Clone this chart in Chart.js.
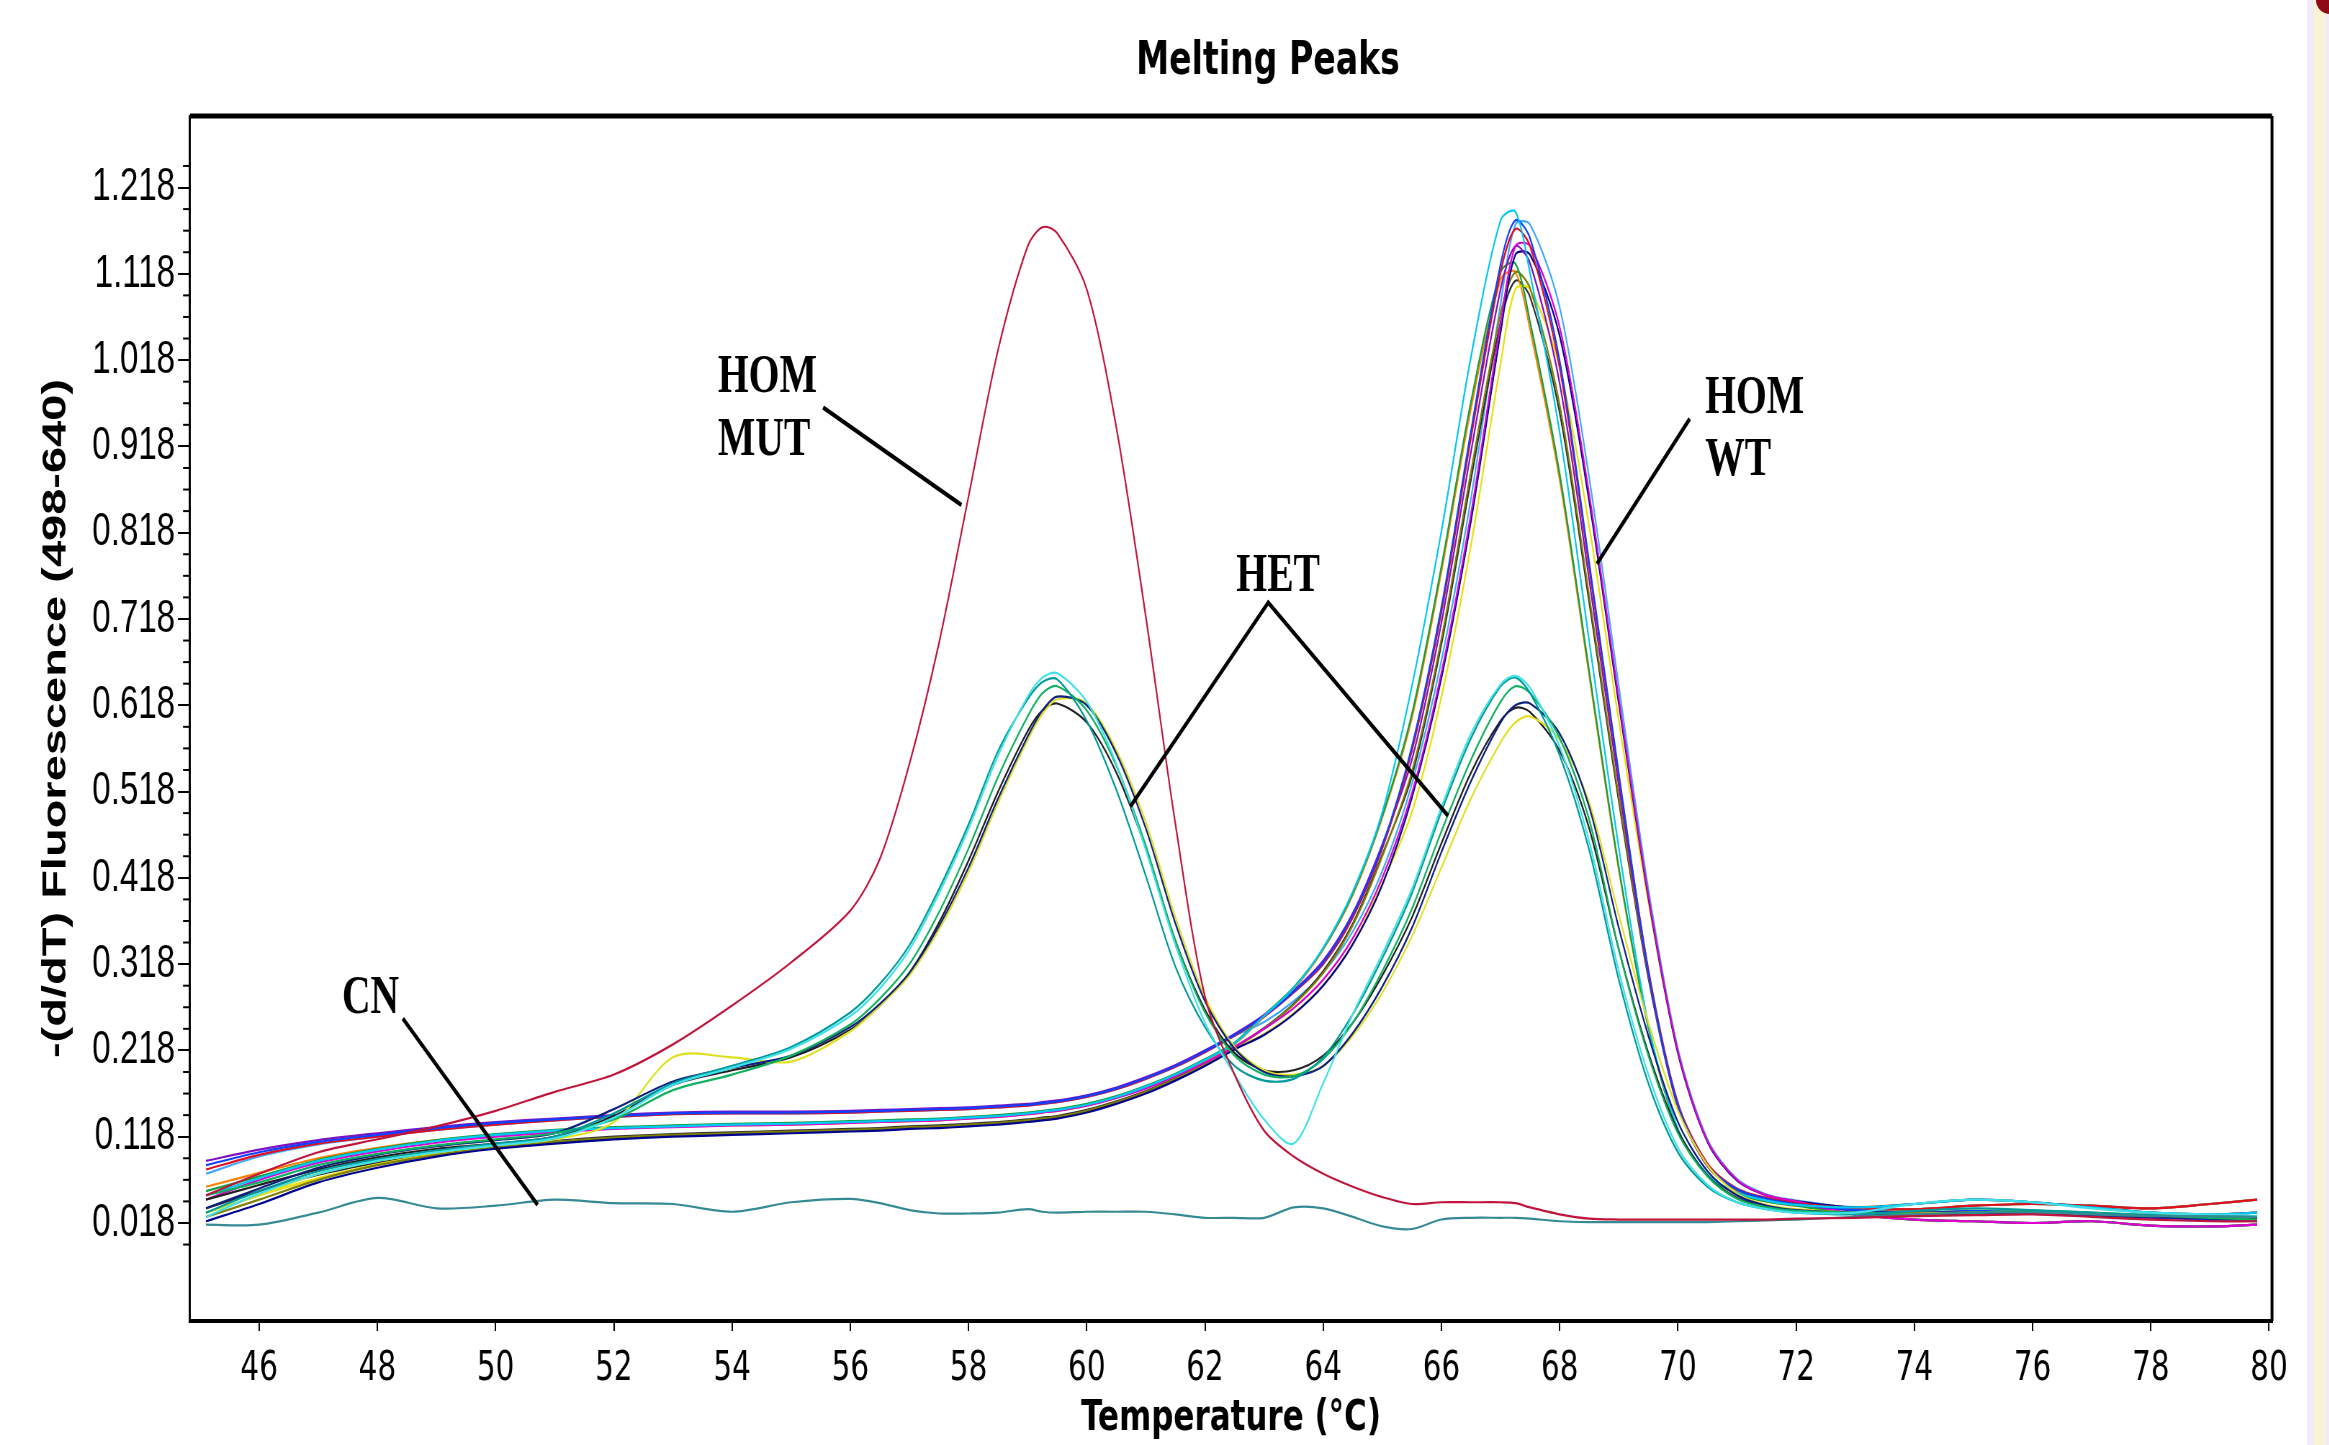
<!DOCTYPE html>
<html>
<head>
<meta charset="utf-8">
<script src="https://cdn.jsdelivr.net/npm/chart.js@4"></script>
<style>
  html, body { margin: 0; padding: 0; background: #fff; overflow: hidden; }
  #wrap { position: absolute; left: 0; top: 0; width: 3235px; height: 1445px;
          transform: scaleX(0.72); transform-origin: 0 0; }
  #edge { position: absolute; left: 2307px; top: 0; width: 22px; height: 1445px;
          background: linear-gradient(to right, #f1eaf8 0 7px, #faf3d2 7px 18px, #f1eaf8 18px); }
  #corner { position: absolute; left: 2316px; top: -14px; width: 28px; height: 28px;
            border-radius: 50%; background: #8e0a14; }
</style>
</head>
<body>
<div id="wrap"><canvas id="c"></canvas></div>
<div id="edge"></div>
<div id="corner"></div>
<script>
// temperature grid (°C)
const temps = [45.1, 46, 47, 48, 49, 50, 51, 52, 53, 54,
  55, 56, 56.5, 57, 57.5, 58, 58.5, 59, 59.25, 59.5,
  60, 60.5, 61, 61.5, 62, 62.5, 63, 63.5, 64, 64.5,
  65, 65.5, 66, 66.5, 67, 67.25, 67.5, 68, 68.5, 69,
  69.5, 70, 70.5, 71, 71.5, 72, 73, 74, 75, 76,
  77, 78, 79, 79.8];

const xTicks = [46, 48, 50, 52, 54, 56, 58, 60, 62, 64, 66, 68, 70, 72, 74, 76, 78, 80];
const yMajorTicks = [0.018, 0.118, 0.218, 0.318, 0.418, 0.518, 0.618, 0.718, 0.818, 0.918, 1.018, 1.118, 1.218];
const yMinorTicks = [-0.007, 0.043, 0.068, 0.093, 0.143, 0.168, 0.193, 0.243, 0.268, 0.293,
  0.343, 0.368, 0.393, 0.443, 0.468, 0.493, 0.543, 0.568, 0.593, 0.643, 0.668, 0.693,
  0.743, 0.768, 0.793, 0.843, 0.868, 0.893, 0.943, 0.968, 0.993, 1.043, 1.068, 1.093,
  1.143, 1.168, 1.193, 1.243];

// HOM MUT sample
const homMut = [0.05, 0.075, 0.1, 0.115, 0.13, 0.148, 0.17, 0.19, 0.225, 0.27,
  0.32, 0.38, 0.44, 0.55, 0.69, 0.86, 1.03, 1.15, 1.172, 1.165,
  1.1, 0.94, 0.72, 0.48, 0.28, 0.19, 0.125, 0.095, 0.075, 0.06,
  0.048, 0.04, 0.042, 0.042, 0.042, 0.041, 0.036, 0.028, 0.023, 0.022,
  0.022, 0.022, 0.022, 0.022, 0.022, 0.023, 0.024, 0.026, 0.027, 0.028,
  0.025, 0.022, 0.02, 0.02];

// negative control
const cn = [0.016, 0.016, 0.03, 0.047, 0.035, 0.038, 0.045, 0.041, 0.04, 0.031,
  0.042, 0.046, 0.041, 0.033, 0.029, 0.029, 0.03, 0.034, 0.031, 0.03,
  0.031, 0.031, 0.031, 0.028, 0.024, 0.024, 0.024, 0.036, 0.035, 0.025,
  0.014, 0.011, 0.022, 0.024, 0.024, 0.024, 0.023, 0.02, 0.019, 0.019,
  0.019, 0.019, 0.019, 0.02, 0.021, 0.022, 0.025, 0.028, 0.03, 0.03,
  0.028, 0.026, 0.026, 0.025];

// heterozygous samples
const het1 = [0.03, 0.055, 0.078, 0.092, 0.102, 0.11, 0.118, 0.145, 0.18, 0.2,
  0.222, 0.262, 0.295, 0.34, 0.405, 0.48, 0.565, 0.625, 0.645, 0.648,
  0.6, 0.52, 0.42, 0.315, 0.245, 0.2, 0.183, 0.185, 0.21, 0.26,
  0.325, 0.4, 0.495, 0.58, 0.64, 0.65, 0.632, 0.56, 0.45, 0.3,
  0.18, 0.1, 0.06, 0.042, 0.034, 0.03, 0.028, 0.032, 0.035, 0.033,
  0.03, 0.027, 0.026, 0.025];
const het2 = [0.05, 0.065, 0.085, 0.098, 0.108, 0.115, 0.122, 0.138, 0.172, 0.19,
  0.212, 0.248, 0.278, 0.318, 0.378, 0.452, 0.535, 0.605, 0.632, 0.64,
  0.612, 0.548, 0.455, 0.345, 0.262, 0.212, 0.19, 0.188, 0.208, 0.25,
  0.31, 0.382, 0.472, 0.555, 0.622, 0.64, 0.632, 0.58, 0.485, 0.335,
  0.212, 0.122, 0.072, 0.046, 0.036, 0.032, 0.03, 0.028, 0.03, 0.032,
  0.03, 0.027, 0.024, 0.022];
const het3 = [0.035, 0.058, 0.082, 0.097, 0.107, 0.114, 0.122, 0.15, 0.182, 0.198,
  0.212, 0.245, 0.272, 0.308, 0.362, 0.43, 0.51, 0.582, 0.612, 0.628,
  0.618, 0.562, 0.475, 0.365, 0.275, 0.22, 0.193, 0.188, 0.2, 0.238,
  0.292, 0.36, 0.448, 0.53, 0.598, 0.618, 0.62, 0.585, 0.5, 0.36,
  0.235, 0.135, 0.078, 0.05, 0.038, 0.033, 0.03, 0.027, 0.028, 0.029,
  0.027, 0.025, 0.023, 0.022];
const het4 = [0.03, 0.05, 0.075, 0.09, 0.1, 0.108, 0.115, 0.135, 0.21, 0.21,
  0.205, 0.24, 0.27, 0.305, 0.358, 0.425, 0.505, 0.578, 0.608, 0.625,
  0.62, 0.566, 0.482, 0.372, 0.28, 0.222, 0.195, 0.19, 0.2, 0.235,
  0.285, 0.35, 0.43, 0.51, 0.575, 0.598, 0.605, 0.578, 0.505, 0.375,
  0.25, 0.148, 0.085, 0.052, 0.039, 0.034, 0.03, 0.029, 0.03, 0.03,
  0.029, 0.027, 0.026, 0.025];
const het5 = [0.045, 0.062, 0.08, 0.094, 0.104, 0.11, 0.118, 0.142, 0.178, 0.195,
  0.21, 0.242, 0.27, 0.308, 0.366, 0.438, 0.518, 0.588, 0.612, 0.62,
  0.598, 0.54, 0.452, 0.345, 0.265, 0.215, 0.195, 0.195, 0.212, 0.25,
  0.305, 0.372, 0.458, 0.54, 0.6, 0.615, 0.61, 0.565, 0.475, 0.335,
  0.215, 0.125, 0.073, 0.047, 0.037, 0.032, 0.03, 0.03, 0.03, 0.029,
  0.027, 0.025, 0.024, 0.023];
const het6 = [0.025, 0.052, 0.075, 0.09, 0.1, 0.108, 0.116, 0.14, 0.178, 0.198,
  0.22, 0.258, 0.29, 0.335, 0.4, 0.475, 0.56, 0.628, 0.65, 0.655,
  0.622, 0.55, 0.45, 0.34, 0.25, 0.19, 0.138, 0.11, 0.18, 0.26,
  0.33, 0.405, 0.5, 0.585, 0.642, 0.652, 0.638, 0.57, 0.46, 0.31,
  0.19, 0.105, 0.062, 0.042, 0.034, 0.03, 0.03, 0.04, 0.045, 0.042,
  0.035, 0.03, 0.028, 0.026];

// homozygous wild type samples
const wt1 = [0.05, 0.07, 0.09, 0.103, 0.113, 0.12, 0.125, 0.128, 0.13, 0.132,
  0.133, 0.135, 0.136, 0.137, 0.138, 0.14, 0.142, 0.145, 0.147, 0.149,
  0.155, 0.164, 0.176, 0.19, 0.207, 0.226, 0.258, 0.29, 0.337, 0.402,
  0.494, 0.64, 0.82, 1.022, 1.18, 1.19, 1.118, 0.934, 0.692, 0.453,
  0.248, 0.127, 0.074, 0.053, 0.044, 0.039, 0.036, 0.04, 0.045, 0.042,
  0.036, 0.03, 0.028, 0.03];
const wt2 = [0.085, 0.1, 0.112, 0.12, 0.128, 0.134, 0.138, 0.142, 0.145, 0.146,
  0.146, 0.147, 0.148, 0.149, 0.15, 0.151, 0.153, 0.155, 0.157, 0.159,
  0.165, 0.174, 0.186, 0.2, 0.217, 0.236, 0.258, 0.286, 0.32, 0.375,
  0.455, 0.57, 0.732, 0.936, 1.129, 1.18, 1.159, 1.017, 0.783, 0.539,
  0.31, 0.155, 0.085, 0.057, 0.046, 0.04, 0.033, 0.03, 0.032, 0.03,
  0.028, 0.025, 0.022, 0.02];
const wt3 = [0.08, 0.097, 0.11, 0.118, 0.126, 0.132, 0.137, 0.141, 0.144, 0.145,
  0.145, 0.146, 0.147, 0.148, 0.149, 0.15, 0.152, 0.154, 0.156, 0.158,
  0.164, 0.173, 0.185, 0.199, 0.216, 0.235, 0.257, 0.285, 0.318, 0.372,
  0.452, 0.565, 0.726, 0.928, 1.12, 1.17, 1.15, 1.009, 0.777, 0.535,
  0.312, 0.157, 0.087, 0.058, 0.047, 0.041, 0.035, 0.034, 0.038, 0.04,
  0.038, 0.035, 0.04, 0.045];
const wt4 = [0.045, 0.068, 0.088, 0.101, 0.111, 0.118, 0.123, 0.127, 0.129, 0.131,
  0.132, 0.134, 0.135, 0.136, 0.137, 0.139, 0.141, 0.144, 0.146, 0.148,
  0.154, 0.163, 0.174, 0.188, 0.204, 0.222, 0.243, 0.267, 0.3, 0.348,
  0.418, 0.516, 0.656, 0.84, 1.06, 1.15, 1.15, 1.056, 0.862, 0.626,
  0.398, 0.217, 0.113, 0.068, 0.05, 0.043, 0.028, 0.022, 0.02, 0.018,
  0.02, 0.015, 0.014, 0.016];
const wt5 = [0.09, 0.103, 0.114, 0.122, 0.129, 0.135, 0.139, 0.143, 0.146, 0.147,
  0.147, 0.148, 0.149, 0.15, 0.151, 0.152, 0.154, 0.156, 0.158, 0.16,
  0.166, 0.175, 0.187, 0.201, 0.218, 0.237, 0.259, 0.287, 0.322, 0.377,
  0.457, 0.555, 0.714, 0.912, 1.1, 1.15, 1.13, 0.991, 0.763, 0.525,
  0.307, 0.153, 0.084, 0.057, 0.046, 0.04, 0.032, 0.029, 0.031, 0.03,
  0.027, 0.024, 0.022, 0.021];
const wt6 = [0.02, 0.04, 0.065, 0.082, 0.095, 0.104, 0.11, 0.115, 0.118, 0.12,
  0.122, 0.124, 0.125, 0.127, 0.128, 0.13, 0.132, 0.135, 0.137, 0.139,
  0.146, 0.156, 0.168, 0.183, 0.2, 0.219, 0.236, 0.26, 0.293, 0.341,
  0.41, 0.511, 0.65, 0.832, 1.05, 1.14, 1.14, 1.046, 0.854, 0.62,
  0.395, 0.215, 0.112, 0.067, 0.05, 0.043, 0.036, 0.04, 0.045, 0.042,
  0.036, 0.03, 0.028, 0.03];
const wt7 = [0.055, 0.072, 0.091, 0.104, 0.114, 0.121, 0.126, 0.129, 0.131, 0.133,
  0.134, 0.136, 0.137, 0.138, 0.139, 0.141, 0.143, 0.146, 0.148, 0.15,
  0.156, 0.165, 0.177, 0.191, 0.208, 0.227, 0.259, 0.291, 0.336, 0.4,
  0.49, 0.608, 0.779, 0.97, 1.12, 1.13, 1.062, 0.886, 0.657, 0.43,
  0.245, 0.126, 0.073, 0.052, 0.043, 0.038, 0.028, 0.022, 0.02, 0.018,
  0.02, 0.015, 0.014, 0.016];
const wt8 = [0.025, 0.045, 0.068, 0.085, 0.097, 0.106, 0.112, 0.117, 0.12, 0.122,
  0.124, 0.126, 0.127, 0.129, 0.13, 0.132, 0.134, 0.137, 0.139, 0.141,
  0.148, 0.158, 0.17, 0.185, 0.202, 0.221, 0.243, 0.271, 0.308, 0.363,
  0.443, 0.541, 0.695, 0.889, 1.072, 1.12, 1.101, 0.966, 0.744, 0.512,
  0.305, 0.153, 0.084, 0.056, 0.045, 0.04, 0.035, 0.034, 0.038, 0.04,
  0.038, 0.035, 0.04, 0.045];
const wt9 = [0.03, 0.05, 0.07, 0.086, 0.098, 0.106, 0.112, 0.116, 0.119, 0.121,
  0.123, 0.125, 0.126, 0.128, 0.129, 0.131, 0.133, 0.136, 0.138, 0.14,
  0.147, 0.157, 0.169, 0.184, 0.201, 0.22, 0.237, 0.261, 0.294, 0.342,
  0.412, 0.494, 0.628, 0.804, 1.014, 1.1, 1.1, 1.01, 0.825, 0.6,
  0.39, 0.214, 0.112, 0.067, 0.05, 0.043, 0.033, 0.03, 0.032, 0.03,
  0.028, 0.025, 0.022, 0.02];
const wt10 = [0.06, 0.076, 0.093, 0.105, 0.114, 0.12, 0.125, 0.128, 0.13, 0.131,
  0.132, 0.134, 0.135, 0.136, 0.137, 0.139, 0.141, 0.144, 0.146, 0.148,
  0.154, 0.163, 0.175, 0.189, 0.206, 0.225, 0.257, 0.289, 0.335, 0.398,
  0.488, 0.603, 0.773, 0.962, 1.111, 1.12, 1.053, 0.879, 0.652, 0.427,
  0.244, 0.125, 0.073, 0.052, 0.043, 0.038, 0.036, 0.04, 0.045, 0.042,
  0.036, 0.03, 0.028, 0.03];
const wt11 = [0.035, 0.055, 0.074, 0.088, 0.099, 0.107, 0.113, 0.118, 0.121, 0.123,
  0.125, 0.127, 0.128, 0.13, 0.131, 0.133, 0.135, 0.138, 0.14, 0.142,
  0.149, 0.159, 0.171, 0.186, 0.203, 0.222, 0.244, 0.272, 0.31, 0.365,
  0.445, 0.536, 0.689, 0.88, 1.062, 1.11, 1.091, 0.957, 0.737, 0.507,
  0.302, 0.152, 0.084, 0.056, 0.045, 0.04, 0.028, 0.022, 0.02, 0.018,
  0.02, 0.015, 0.014, 0.016];
const wt12 = [0.075, 0.095, 0.109, 0.118, 0.126, 0.132, 0.137, 0.141, 0.144, 0.145,
  0.145, 0.146, 0.147, 0.148, 0.149, 0.15, 0.152, 0.154, 0.156, 0.158,
  0.164, 0.173, 0.185, 0.199, 0.216, 0.235, 0.251, 0.275, 0.308, 0.356,
  0.426, 0.527, 0.67, 0.858, 1.083, 1.175, 1.175, 1.079, 0.881, 0.64,
  0.405, 0.22, 0.115, 0.069, 0.051, 0.044, 0.035, 0.034, 0.038, 0.04,
  0.038, 0.035, 0.04, 0.045];

// annotation labels: text lines, left x (°C), baseline of each line (y value)
const labels = [
  { lines: ["HOM", "MUT"], t: 53.76, y: [0.981, 0.908] },
  { lines: ["HOM", "WT"], t: 70.46, y: [0.957, 0.885] },
  { lines: ["HET"], t: 62.53, y: [0.750] },
  { lines: ["CN"], t: 47.40, y: [0.261] },
];
// pointer lines, as [°C, value] points
const pointers = [
  [[55.54, 0.963], [57.88, 0.850]],
  [[70.20, 0.950], [68.63, 0.782]],
  [[60.74, 0.501], [63.07, 0.737], [66.11, 0.490]],
  [[48.43, 0.255], [50.71, 0.039]],
];

const SX = 0.72;          // horizontal squeeze of the whole picture
const CW = 3235;          // canvas width before the squeeze
const PLOT_LEFT = 190, PLOT_RIGHT = 2272, PLOT_TOP = 116, PLOT_BOTTOM = 1321;

const series = [
  [homMut, "#c0143c"], [cn, "#368a94"],
  [het6, "#40e0ea"], [het1, "#009a9a"], [het2, "#10b060"], [het3, "#102080"], [het4, "#e0e020"], [het5, "#202020"],
  [wt1, "#00c8f0"], [wt2, "#1040ff"], [wt3, "#e01020"], [wt4, "#e000d0"], [wt5, "#8010c0"], [wt6, "#000090"],
  [wt7, "#10a040"], [wt8, "#808000"], [wt9, "#e8e000"], [wt10, "#ff8000"], [wt11, "#303030"], [wt12, "#40a8ff"],
];

const datasets = series.map(([vals, color]) => ({
  data: temps.map((t, i) => ({ x: t, y: vals[i] })),
  borderColor: color,
  borderWidth: 2.2,
  pointRadius: 0,
  tension: 0.3,
  fill: false,
}));

const framePlugin = {
  id: "frame",
  afterDraw(chart) {
    const { ctx, chartArea: a, scales: { x, y } } = chart;
    ctx.save();
    ctx.strokeStyle = "#000";
    // top and right edges of the plot box
    ctx.lineWidth = 5;
    ctx.beginPath(); ctx.moveTo(a.left, a.top); ctx.lineTo(a.right, a.top); ctx.stroke();
    ctx.lineWidth = 4;
    ctx.beginPath(); ctx.moveTo(a.right, a.top); ctx.lineTo(a.right, a.bottom); ctx.stroke();
    // minor ticks on y
    ctx.lineWidth = 2;
    yMinorTicks.forEach(v => {
      const py = y.getPixelForValue(v);
      ctx.beginPath(); ctx.moveTo(a.left - 9.7, py); ctx.lineTo(a.left, py); ctx.stroke();
    });
    // title
    ctx.fillStyle = "#000";
    ctx.font = "bold 46px 'DejaVu Sans', sans-serif";
    ctx.textAlign = "center";
    ctx.textBaseline = "middle";
    ctx.fillText("Melting Peaks", 1268 / SX, 62);
    // annotations
    ctx.font = "bold 55px 'Liberation Serif', 'Times New Roman', serif";
    ctx.textAlign = "left";
    ctx.textBaseline = "alphabetic";
    labels.forEach(l => {
      l.lines.forEach((txt, i) => ctx.fillText(txt, x.getPixelForValue(l.t), y.getPixelForValue(l.y[i])));
    });
    ctx.lineWidth = 4.5;
    ctx.lineJoin = "miter";
    pointers.forEach(p => {
      ctx.beginPath();
      p.forEach(([t, v], i) => {
        const px = x.getPixelForValue(t), py = y.getPixelForValue(v);
        if (i === 0) ctx.moveTo(px, py); else ctx.lineTo(px, py);
      });
      ctx.stroke();
    });
    ctx.restore();
  }
};

new Chart(document.getElementById("c"), {
  type: "line",
  data: { datasets },
  options: {
    animation: false,
    responsive: true,
    maintainAspectRatio: false,
    layout: { padding: { top: PLOT_TOP, right: CW - PLOT_RIGHT / SX, left: 0, bottom: 0 } },
    plugins: { legend: { display: false }, tooltip: { enabled: false }, title: { display: false } },
    scales: {
      x: {
        type: "linear",
        min: 44.83,
        max: 80.05,
        afterBuildTicks: s => { s.ticks = xTicks.map(v => ({ value: v })); },
        afterFit: s => { s.height = 1445 - PLOT_BOTTOM; },
        grid: { drawOnChartArea: false, tickLength: 10, color: "#000", lineWidth: 2 },
        border: { color: "#000", width: 4 },
        ticks: {
          color: "#000", padding: 14, maxRotation: 0, autoSkip: false,
          font: { family: "'DejaVu Sans', sans-serif", size: 41 },
          callback: v => String(v),
        },
        title: {
          display: true, text: "Temperature (°C)", color: "#000",
          font: { family: "'DejaVu Sans', sans-serif", weight: "bold", size: 43 },
          padding: { top: 0, bottom: 0 },
        },
      },
      y: {
        min: -0.0956,
        max: 1.3009,
        afterBuildTicks: s => { s.ticks = yMajorTicks.map(v => ({ value: v })); },
        afterFit: s => { s.width = PLOT_LEFT / SX; },
        grid: { drawOnChartArea: false, tickLength: 16.7, color: "#000", lineWidth: 2 },
        border: { color: "#000", width: 3 },
        ticks: {
          color: "#000", padding: 4, autoSkip: false,
          font: { family: "'Liberation Sans', Arial, sans-serif", size: 46 },
          callback: v => v.toFixed(3),
        },
        title: {
          display: true, text: "-(d/dT) Fluorescence (498-640)", color: "#000",
          font: { family: "'Liberation Sans', Arial, sans-serif", weight: "bold", size: 47 },
          padding: { top: 50, bottom: 0 },
        },
      },
    },
  },
  plugins: [framePlugin],
});
</script>
</body>
</html>
